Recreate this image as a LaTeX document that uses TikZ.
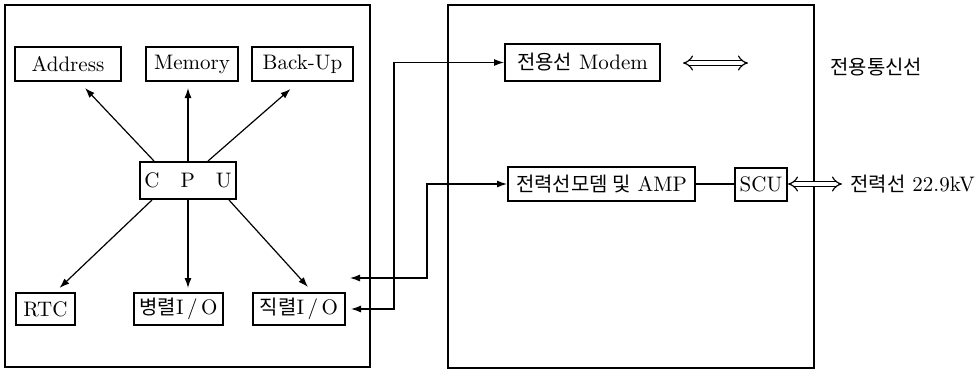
\documentclass[tikz,border=0pt]{standalone}
\usepackage{fontspec}
\newfontfamily\cjk{Noto Sans CJK KR}[Scale=0.95]
\usetikzlibrary{arrows.meta}
\begin{document}
\begin{tikzpicture}[x=0.5pt,y=-0.5pt,
  box/.style={draw, line width=1pt, inner sep=0pt, font=\fontsize{10.5}{12}\selectfont},
  frame/.style={draw, line width=0.7pt},
  arr/.style={line width=0.6pt, -{Latex[length=5pt,width=3.5pt]}},
  darr/.style={line width=0.6pt, {Latex[length=5pt,width=3.5pt]}-{Latex[length=5pt,width=3.5pt]}},
  dbl/.style={double, double distance=2pt, line width=0.6pt, {Implies}-{Implies}},
  lbl/.style={anchor=west, inner sep=0pt, font=\fontsize{10.5}{12}\selectfont}]
\useasboundingbox (0,0) rectangle (980,371);
% outer frames
\draw[frame] (5,5) rectangle (370,367);
\draw[frame] (448,5) rectangle (814,368);
% left block nodes
\node[box, minimum width=53pt, minimum height=17pt] (addr) at (68,64) {Address};
\node[box, minimum width=46pt, minimum height=17pt] (mem) at (192,64) {Memory};
\node[box, minimum width=50.5pt, minimum height=17pt] (bak) at (302.5,64) {Back-Up};
\node[box, minimum width=48pt, minimum height=18.5pt] (cpu) at (188,180.5) {C\quad P\quad U};
\node[box, minimum width=29.5pt, minimum height=16pt] (rtc) at (45.5,309) {RTC};
\node[box, minimum width=44.5pt, minimum height=16pt] (par) at (178.5,309) {{\cjk 병렬}I\,/\,O};
\node[box, minimum width=46pt, minimum height=16pt] (ser) at (299,309) {{\cjk 직렬}I\,/\,O};
% right block nodes
\node[box, minimum width=77.5pt, minimum height=18.5pt] (modem) at (582.5,62.5) {{\cjk 전용선} Modem};
\node[box, minimum width=93.5pt, minimum height=17pt] (plm) at (601.5,184) {{\cjk 전력선모뎀 및} AMP};
\node[box, minimum width=26pt, minimum height=16.5pt] (scu) at (761,184) {SCU};
\node[lbl] (dtl) at (830,67) {\cjk 전용통신선};
\node[lbl] (plt) at (850,184) {{\cjk 전력선} 22.9kV};
% CPU connectors
\draw[arr] ([xshift=7.5pt]cpu.north west) -- ([xshift=8.5pt,yshift=-3pt]addr.south);
\draw[arr] (cpu.north) -- ([yshift=-3pt]cpu.north |- mem.south);
\draw[arr] ([xshift=-14.5pt]cpu.north east) -- ([xshift=-6pt,yshift=-3.5pt]bak.south);
\draw[arr] ([xshift=6.5pt]cpu.south west) -- ([xshift=7pt,yshift=2pt]rtc.north);
\draw[arr] (cpu.south) -- ([yshift=2pt]cpu.south |- par.north);
\draw[arr] ([xshift=-4pt]cpu.south east) -- ([xshift=4.5pt,yshift=2.5pt]ser.north);
% links between blocks
\coordinate (ioin) at (350,278);
\draw[darr] (ioin) -- ++(77,0) |- (plm.west);
\draw[darr] ([xshift=2.5pt]ser.east) -- ++(43,0) |- (modem.west);
\draw[line width=0.7pt] (plm.east) -- (scu.west);
\draw[dbl, shorten >=4pt] (scu.east) -- (plt.west);
\coordinate (ma) at (683,63);
\coordinate (mb) at (748,63);
\draw[dbl] (ma) -- (mb);
\end{tikzpicture}
\end{document}
